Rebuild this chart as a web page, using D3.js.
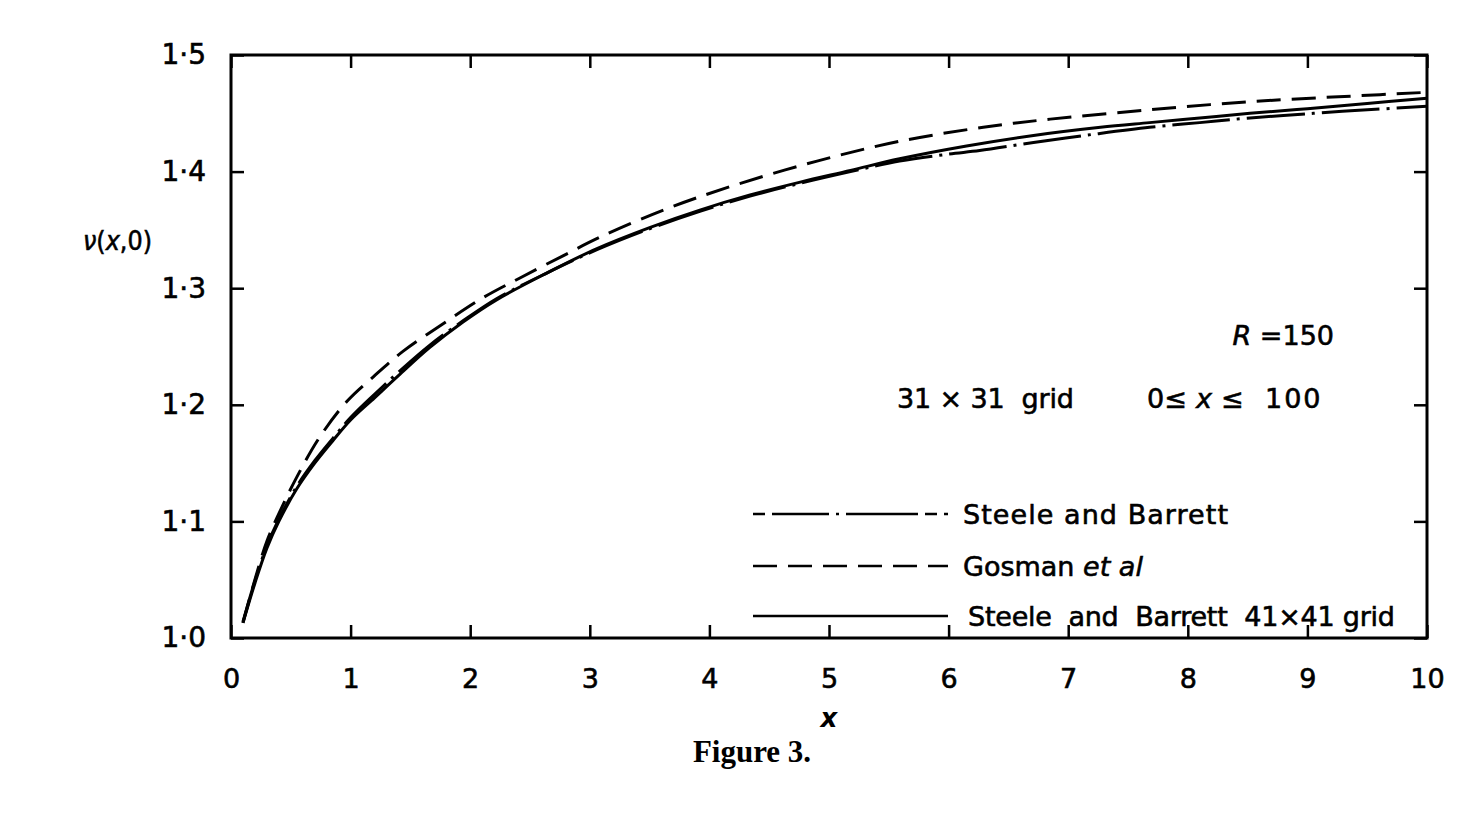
<!DOCTYPE html>
<html>
<head>
<meta charset="utf-8">
<script src="https://cdn.jsdelivr.net/npm/d3@7"></script>
<style>
  html, body { margin: 0; padding: 0; background: #fff; }
  svg { display: block; }
  text { font-family: "DejaVu Sans", sans-serif; fill: #000; white-space: pre; }
  .heavy { stroke: #000; stroke-width: 0.6px; }
</style>
</head>
<body>
<svg id="chart" width="1463" height="820"></svg>
<script>
// ---------------- data ----------------
const xTicks = [0, 1, 2, 3, 4, 5, 6, 7, 8, 9, 10];
const xTickLabels = ["0", "1", "2", "3", "4", "5", "6", "7", "8", "9", "10"];
const yTicks = [1.0, 1.1, 1.2, 1.3, 1.4, 1.5];
const yTickLabels = ["1·0", "1·1", "1·2", "1·3", "1·4", "1·5"];

// Steele and Barrett (31x31 grid) — dash-dot
const sb31X = [0.1,0.2,0.3,0.4,0.55,0.7,0.85,1.0,1.2,1.4,1.66,1.94,2.22,2.64,3.06,3.5,3.92,4.34,4.76,5.18,5.59,6.0,6.26,6.71,7.21,7.68,8.1,8.52,9.05,9.5,10];
const sb31V = [1.014,1.049,1.079,1.102,1.130,1.152,1.171,1.189,1.209,1.228,1.251,1.272,1.291,1.313,1.333,1.351,1.366,1.379,1.390,1.400,1.409,1.415,1.418,1.425,1.432,1.438,1.442,1.446,1.450,1.453,1.456];

// Gosman et al — dashed
const gosX = [0.1,0.2,0.3,0.42,0.55,0.74,0.97,1.19,1.44,1.78,2.11,2.42,2.78,3.09,3.64,4.2,4.9,5.59,6.29,6.85,7.68,8.52,9.36,10];
const gosV = [1.013,1.050,1.083,1.111,1.138,1.172,1.203,1.224,1.246,1.270,1.292,1.309,1.328,1.344,1.368,1.388,1.409,1.426,1.438,1.445,1.453,1.460,1.4647,1.468];

// Steele and Barrett 41x41 grid — solid
const sb41X = [0.1,0.2,0.3,0.4,0.55,0.7,0.85,1.0,1.2,1.4,1.66,1.94,2.22,2.64,3.06,3.5,3.92,4.34,4.76,5.18,5.59,6.15,6.71,7.27,7.68,8.1,8.52,9.0,9.5,10];
const sb41V = [1.013,1.047,1.077,1.100,1.128,1.150,1.169,1.187,1.206,1.225,1.249,1.271,1.290,1.313,1.334,1.352,1.367,1.380,1.391,1.401,1.411,1.422,1.431,1.438,1.442,1.446,1.450,1.454,1.4585,1.463];

const legendLabels = ["Steele and Barrett", "Gosman ", "Steele  and  Barrett  41×41 grid"];

// ---------------- layout ----------------
const svg = d3.select("#chart");
const L = 231, R = 1427, T = 55, B = 638;
const x = d3.scaleLinear().domain([0, 10]).range([L, R]);
const y = d3.scaleLinear().domain([1.0, 1.5]).range([B, T]);
const TICK = 13;

const fmtX = (d) => xTickLabels[xTicks.indexOf(d)];
const fmtY = (d) => yTickLabels[yTicks.findIndex(t => Math.abs(t - d) < 1e-9)];

const gB = svg.append("g").attr("transform", `translate(0,${B})`)
  .call(d3.axisBottom(x).tickValues(xTicks).tickSize(-TICK).tickPadding(31).tickFormat(fmtX));
const gT = svg.append("g").attr("transform", `translate(0,${T})`)
  .call(d3.axisTop(x).tickValues(xTicks).tickSize(-TICK).tickFormat(""));
const gL = svg.append("g").attr("transform", `translate(${L},0)`)
  .call(d3.axisLeft(y).tickValues(yTicks).tickSize(-TICK).tickPadding(25).tickFormat(fmtY));
const gR = svg.append("g").attr("transform", `translate(${R},0)`)
  .call(d3.axisRight(y).tickValues(yTicks).tickSize(-TICK).tickFormat(""));

[gB, gT, gL, gR].forEach(g => {
  g.select(".domain").remove();
  g.selectAll(".tick line").attr("stroke", "#000").attr("stroke-width", 2.5);
});
gB.selectAll(".tick text").attr("class", "heavy").style("font-family", "DejaVu Sans").style("font-size", "27px").attr("fill", "#000");
gL.selectAll(".tick text").attr("class", "heavy").style("font-family", "DejaVu Sans").style("font-size", "28px").attr("fill", "#000");

// frame
svg.append("rect").attr("x", L).attr("y", T).attr("width", R - L).attr("height", B - T)
  .attr("fill", "none").attr("stroke", "#000").attr("stroke-width", 3);

// curves
const line = d3.line().x(d => x(d[0])).y(d => y(d[1])).curve(d3.curveCatmullRom.alpha(0.5));
const series = [
  { xs: sb31X, vs: sb31V, dash: "58,7,3,7" },
  { xs: gosX, vs: gosV, dash: "24,11" },
  { xs: sb41X, vs: sb41V, dash: null }
];
series.forEach(s => {
  const pts = s.xs.map((xv, i) => [xv, s.vs[i]]);
  svg.append("path").datum(pts).attr("d", line)
    .attr("fill", "none").attr("stroke", "#000").attr("stroke-width", 3)
    .attr("stroke-dasharray", s.dash);
});

// legend
const legRows = [514, 566, 616];
const legX = [963, 963, 968];
const legW = [265, null, 427];
const legDash = ["12,7,57,7,3,7,72,7", "24,11", null];
legRows.forEach((ly, i) => {
  svg.append("line").attr("x1", 753).attr("x2", 948).attr("y1", ly).attr("y2", ly)
    .attr("stroke", "#000").attr("stroke-width", 2.5).attr("stroke-dasharray", legDash[i]);
  const t = svg.append("text").attr("class", "heavy").attr("x", legX[i]).attr("y", ly).attr("dy", "0.36em")
    .style("font-size", "27px");
  if (legW[i]) t.attr("textLength", legW[i]).attr("lengthAdjust", "spacing");
  t.append("tspan").text(legendLabels[i]);
  if (i === 1) t.append("tspan").style("font-style", "italic").text("et al");
});

// annotations
const r = svg.append("text").attr("class", "heavy").attr("x", 1334).attr("y", 335).attr("dy", "0.36em")
  .attr("text-anchor", "end").style("font-size", "27px");
r.append("tspan").style("font-style", "italic").text("R");
r.append("tspan").text(" =150");

svg.append("text").attr("class", "heavy").attr("x", 897).attr("y", 398).attr("dy", "0.36em")
  .attr("textLength", 177).attr("lengthAdjust", "spacing")
  .style("font-size", "27px").text("31 × 31  grid");
const rangeParts = [
  { t: "0≤", x: 1147, it: false },
  { t: "x", x: 1196, it: true },
  { t: "≤", x: 1221, it: false },
  { t: "100", x: 1265, it: false }
];
rangeParts.forEach(p => {
  svg.append("text").attr("class", "heavy").attr("x", p.x).attr("y", 398).attr("dy", "0.36em")
    .style("font-size", "27px").style("font-style", p.it ? "italic" : "normal")
    .style("letter-spacing", p.t === "100" ? "2px" : "0px").text(p.t);
});

// axis titles
const yl = svg.append("text").attr("class", "heavy").attr("x", 83).attr("y", 240).attr("dy", "0.36em")
  .attr("textLength", 69).attr("lengthAdjust", "spacingAndGlyphs")
  .style("font-size", "27px");
yl.append("tspan").style("font-style", "italic").text("ν");
yl.append("tspan").text("(");
yl.append("tspan").style("font-style", "italic").text("x");
yl.append("tspan").text(",0)");

svg.append("text").attr("x", 829).attr("y", 718).attr("dy", "0.36em")
  .attr("text-anchor", "middle").style("font-size", "26px").style("font-style", "italic")
  .style("font-weight", "bold").text("x");

svg.append("text").attr("x", 752).attr("y", 762).attr("text-anchor", "middle")
  .style("font-family", "Liberation Serif, serif").style("font-weight", "bold")
  .style("font-size", "31px").text("Figure 3.");
</script>
</body>
</html>
